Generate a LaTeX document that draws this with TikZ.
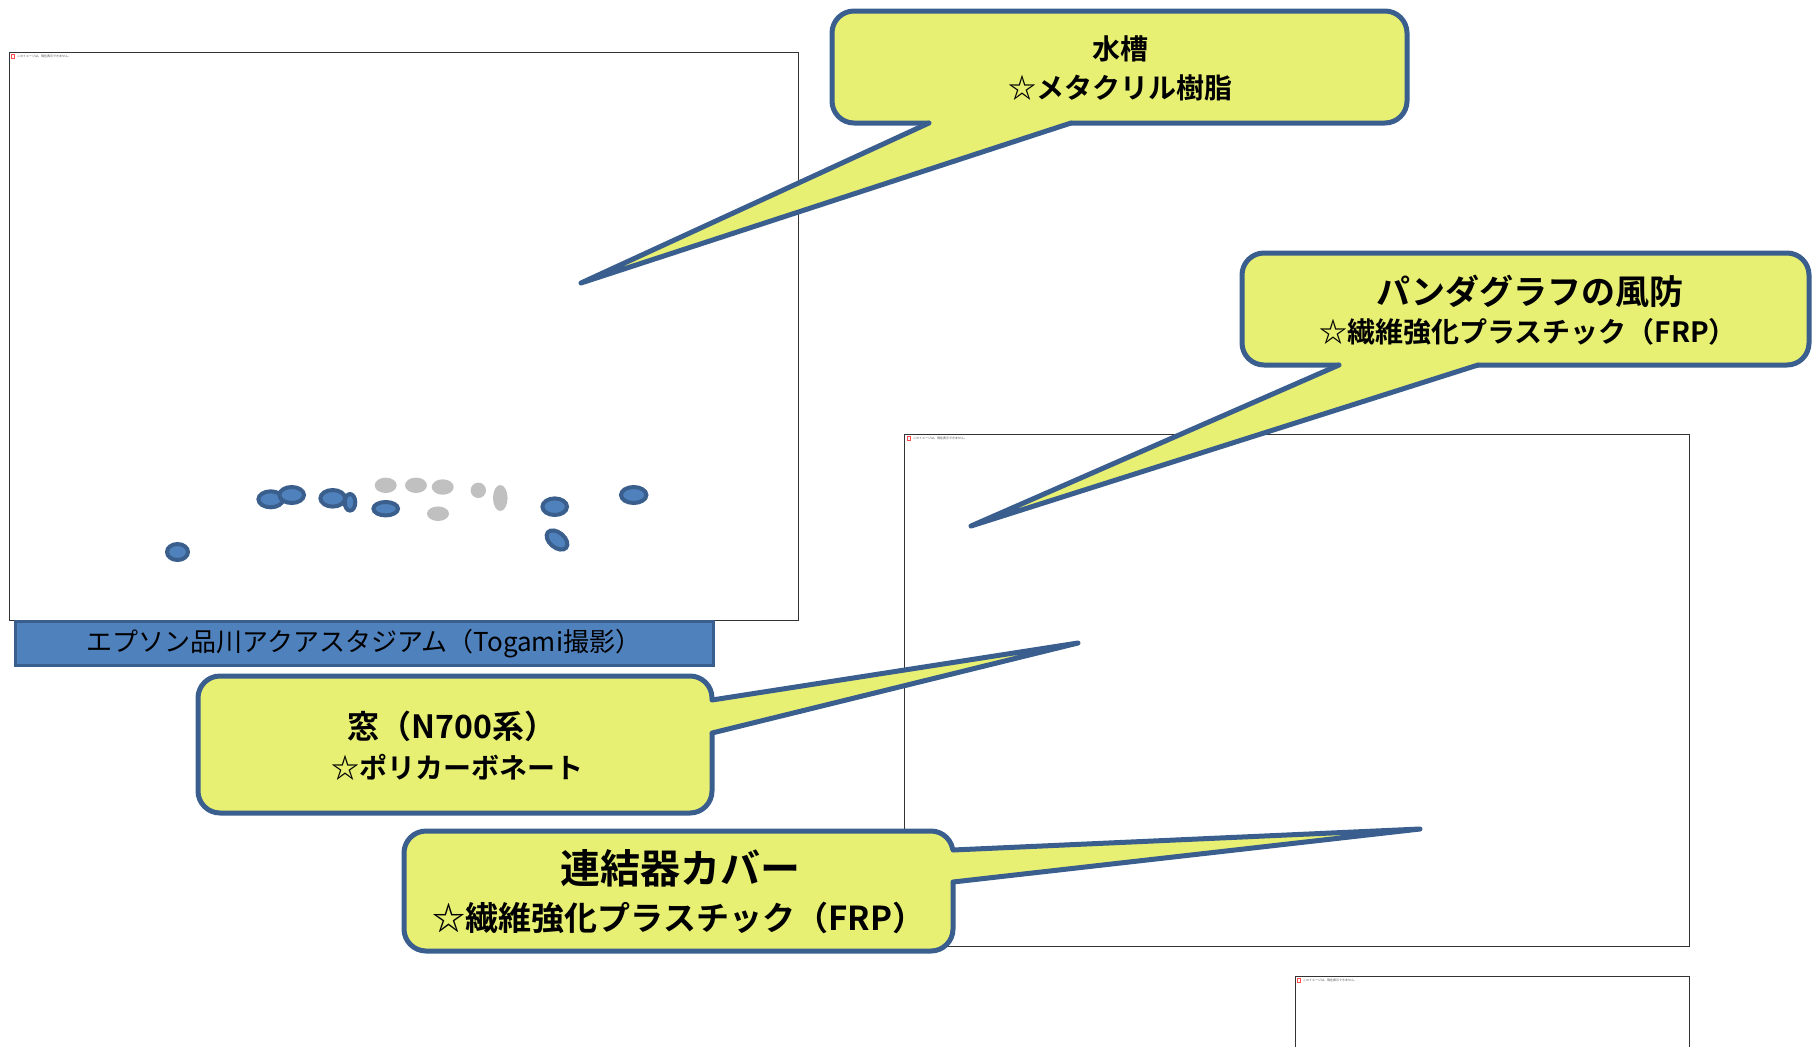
\documentclass[tikz,border=0pt]{standalone}
\usepackage{fontspec}
\newfontfamily\jp{Noto Sans CJK JP}[BoldFont={Noto Sans CJK JP Bold}]
\definecolor{balloonyellow}{HTML}{E8F074}
\definecolor{balloonblue}{HTML}{3A5F8E}
\definecolor{barfill}{HTML}{4F81BD}
\definecolor{bardraw}{HTML}{3B5F8C}
\definecolor{blobgray}{HTML}{C0C0C0}
\tikzset{
  balloon/.style={fill=balloonyellow, draw=balloonblue, line width=5pt, rounded corners=22pt},
  balloonfill/.style={fill=balloonyellow},
  balloonline/.style={draw=balloonblue, line width=5pt, line join=round, line cap=round},
  frame/.style={draw=black!80, line width=1pt},
  blob/.style={fill=barfill, draw=bardraw, line width=4pt},
  grayblob/.style={fill=blobgray},
  tiny/.style={font=\jp\fontsize{3}{3}\selectfont, text=black!70, inner sep=0pt, anchor=west},
  icon/.style={draw=red!70, fill=white, line width=0.6pt, minimum width=3pt, minimum height=4pt, inner sep=0pt},
}
\begin{document}
\begin{tikzpicture}[x=1pt,y=-1pt]
\useasboundingbox (0,0) rectangle (1812,1047);

% picture frames
\draw [frame] (9,52) rectangle (798,620);
\draw [frame] (904,434) rectangle (1689,946);
\draw [frame] (1295,1047) -- (1295,976) -- (1689,976) -- (1689,1047);
\node [icon] (i1) at (13,56) {};
\node [tiny] (p1) at (17,56) {このイメージは、現在表示できません。};
\node [icon] (i2) at (909,438) {};
\node [tiny] (p2) at (913,438) {このイメージは、現在表示できません。};
\node [icon] (i3) at (1299,980) {};
\node [tiny] (p3) at (1303,980) {このイメージは、現在表示できません。};

% fish
\draw [blob] (270.7,499.3) ellipse [x radius=12.3pt, y radius=8pt];
\draw [blob] (291.7,495) ellipse [x radius=12.3pt, y radius=8pt];
\draw [blob] (332.7,498.3) ellipse [x radius=12.3pt, y radius=8.3pt];
\draw [blob] (350,502.3) ellipse [x radius=5.3pt, y radius=8.3pt];
\draw [blob] (385.7,508.7) ellipse [x radius=12.3pt, y radius=6.7pt];
\draw [blob] (554.7,506.7) ellipse [x radius=12.3pt, y radius=8.3pt];
\draw [blob, rotate around={-40:(557,540)}] (557,540) ellipse [x radius=12pt, y radius=7.5pt];
\draw [blob] (633.7,495) ellipse [x radius=12.7pt, y radius=8pt];
\draw [blob] (177.5,552) ellipse [x radius=10.5pt, y radius=8pt];
\fill [grayblob] (385.7,485.3) ellipse [x radius=11pt, y radius=7.7pt];
\fill [grayblob] (416,485.3) ellipse [x radius=11pt, y radius=7.7pt];
\fill [grayblob] (442.7,487) ellipse [x radius=11pt, y radius=7.7pt];
\fill [grayblob] (478.3,490.3) ellipse [x radius=7.7pt, y radius=7.7pt];
\fill [grayblob] (500.3,498) ellipse [x radius=7.3pt, y radius=13pt];
\fill [grayblob] (438,513.7) ellipse [x radius=11pt, y radius=7.3pt];

% caption bar
\draw [fill=barfill, draw=bardraw, line width=3pt] (15,621) rectangle (713,665);
\node [font=\jp\fontsize{26}{30}\selectfont] (cap) at (364,644) {エプソン品川アクアスタジアム（Togami撮影）};

% balloon 1
\coordinate (tip1) at (581,283);
\draw [balloon] (832,11) rectangle (1407,123);
\fill [balloonfill] (929,116) -- (929,123) -- (tip1) -- (1071,123) -- (1071,116) -- cycle;
\draw [balloonline] (929,123) -- (tip1) -- (1071,123);
\node [font=\jp\bfseries\fontsize{28}{32}\selectfont] (t1) at (1120,49) {水槽};
\node [font=\jp\bfseries\fontsize{28}{32}\selectfont] (t2) at (1120,88) {☆メタクリル樹脂};

% balloon 2
\coordinate (tip2) at (971,526);
\draw [balloon] (1242,253) rectangle (1809,365);
\fill [balloonfill] (1339,358) -- (1339,365) -- (tip2) -- (1478,365) -- (1478,358) -- cycle;
\draw [balloonline] (1339,365) -- (tip2) -- (1478,365);
\node [font=\jp\bfseries\fontsize{34}{38}\selectfont] (t3) at (1530,291) {パンダグラフの風防};
\node [font=\jp\bfseries\fontsize{28}{32}\selectfont] (t4) at (1528,332) {☆繊維強化プラスチック（FRP）};

% balloon 3
\coordinate (tip3) at (1078,643);
\draw [balloon] (198,676) rectangle (712,813);
\fill [balloonfill] (705,700) -- (712,700) -- (tip3) -- (712,733) -- (705,733) -- cycle;
\draw [balloonline] (712,700) -- (tip3) -- (712,733);
\node [font=\jp\bfseries\fontsize{32}{36}\selectfont] (t5) at (452,726) {窓（N700系）};
\node [font=\jp\bfseries\fontsize{28}{32}\selectfont] (t6) at (457,767) {☆ポリカーボネート};

% balloon 4
\coordinate (tip4) at (1420,829);
\draw [balloon] (404,831) rectangle (953,951);
\fill [balloonfill] (946,850) -- (953,850) -- (tip4) -- (953,882) -- (946,882) -- cycle;
\draw [balloonline] (953,850) -- (tip4) -- (953,882);
\node [font=\jp\bfseries\fontsize{40}{44}\selectfont] (t7) at (680,868) {連結器カバー};
\node [font=\jp\bfseries\fontsize{33}{37}\selectfont] (t8) at (679,918) {☆繊維強化プラスチック（FRP）};
\end{tikzpicture}
\end{document}
